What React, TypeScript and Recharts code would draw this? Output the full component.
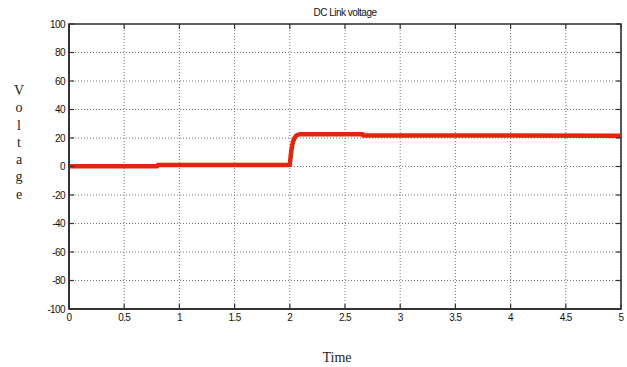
import React from 'react';
import { LineChart, Line, XAxis, YAxis, CartesianGrid, ReferenceArea } from 'recharts';

const timeValues = [0, 0.8, 0.805, 2.0, 2.005, 2.012, 2.02, 2.03, 2.045, 2.06, 2.08, 2.1, 2.66, 2.665, 5];
const voltageValues = [0.2, 0.2, 1.1, 1.1, 5, 10, 14, 17.5, 20.3, 21.8, 22.5, 22.6, 22.6, 21.8, 21.6];
const xTicks = [0, 0.5, 1, 1.5, 2, 2.5, 3, 3.5, 4, 4.5, 5];
const yTicks = [-100, -80, -60, -40, -20, 0, 20, 40, 60, 80, 100];
const titleText = 'DC Link voltage';
const yLabelText = 'Voltage';
const xLabelText = 'Time';

const data = timeValues.map((t, i) => ({ t, v: voltageValues[i] }));

const W = 627, H = 367;
const M = { top: 24, right: 6, left: 29, bottom: 38 };
const YW = 40, XH = 20;
const PW = W - M.left - M.right - YW;
const PH = H - M.top - M.bottom - XH;
const TM = 4; // tick margin
const TL = 5; // inward tick length

const narrow = '"Liberation Sans Narrow", "Arial Narrow", "Liberation Sans", sans-serif';
const axisColor = '#333';

const XTick = (props: any) => {
  const { x, y, payload } = props;
  const ay = y - TM;
  return (
    <g>
      <line x1={x} y1={ay} x2={x} y2={ay - TL} stroke={axisColor} strokeWidth={1.2} />
      <line x1={x} y1={ay - PH} x2={x} y2={ay - PH + TL} stroke={axisColor} strokeWidth={1.2} />
      <text x={x} y={y} dy="0.75em" textAnchor="middle" fontSize={10} fill="#111" fontFamily={narrow} letterSpacing={-0.6}>
        {payload.value}
      </text>
    </g>
  );
};

const YTick = (props: any) => {
  const { x, y, payload } = props;
  const ax = x + TM;
  return (
    <g>
      <line x1={ax} y1={y} x2={ax + TL} y2={y} stroke={axisColor} strokeWidth={1.2} />
      <line x1={ax + PW} y1={y} x2={ax + PW - TL} y2={y} stroke={axisColor} strokeWidth={1.2} />
      <text x={x} y={y} dy="0.36em" textAnchor="end" fontSize={10} fill="#111" fontFamily={narrow} letterSpacing={-0.6}>
        {payload.value}
      </text>
    </g>
  );
};

export default function App() {
  return (
    <div style={{ position: 'absolute', left: 0, top: 0, width: W, height: H, background: '#fff' }}>
      <LineChart width={W} height={H} data={data} margin={M}>
        <CartesianGrid stroke="#777" strokeDasharray="1 2" />
        <XAxis dataKey="t" type="number" domain={[0, 5]} ticks={xTicks} height={XH}
          axisLine={{ stroke: axisColor, strokeWidth: 2 }} tickLine={false} tickSize={0} tickMargin={TM} tick={<XTick />} interval={0} />
        <YAxis type="number" domain={[-100, 100]} ticks={yTicks} width={YW}
          axisLine={{ stroke: axisColor, strokeWidth: 2 }} tickLine={false} tickSize={0} tickMargin={TM} tick={<YTick />} interval={0} />
        <ReferenceArea x1={0} x2={5} y1={-100} y2={100} fill="none" fillOpacity={0} stroke={axisColor} strokeWidth={1.6} />
        <Line type="linear" dataKey="v" stroke="#e0260c" strokeWidth={4.5} dot={false}
          isAnimationActive={false} strokeLinejoin="round" />
      </LineChart>
      <div style={{ position: 'absolute', left: 245, width: 200, top: 7, textAlign: 'center', fontSize: 10,
        letterSpacing: -0.5, fontFamily: narrow, color: '#111' }}>
        {titleText}
      </div>
      <div style={{ position: 'absolute', left: 8, width: 22, top: 82, textAlign: 'center', fontSize: 14,
        lineHeight: '17.3px', fontFamily: '"Liberation Serif", "Times New Roman", serif', color: '#222' }}>
        {yLabelText.split('').map((ch, i) => (<div key={i}>{ch}</div>))}
      </div>
      <div style={{ position: 'absolute', left: 287, width: 100, top: 350, textAlign: 'center', fontSize: 14,
        fontFamily: '"Liberation Serif", "Times New Roman", serif', color: '#222' }}>
        {xLabelText}
      </div>
    </div>
  );
}
